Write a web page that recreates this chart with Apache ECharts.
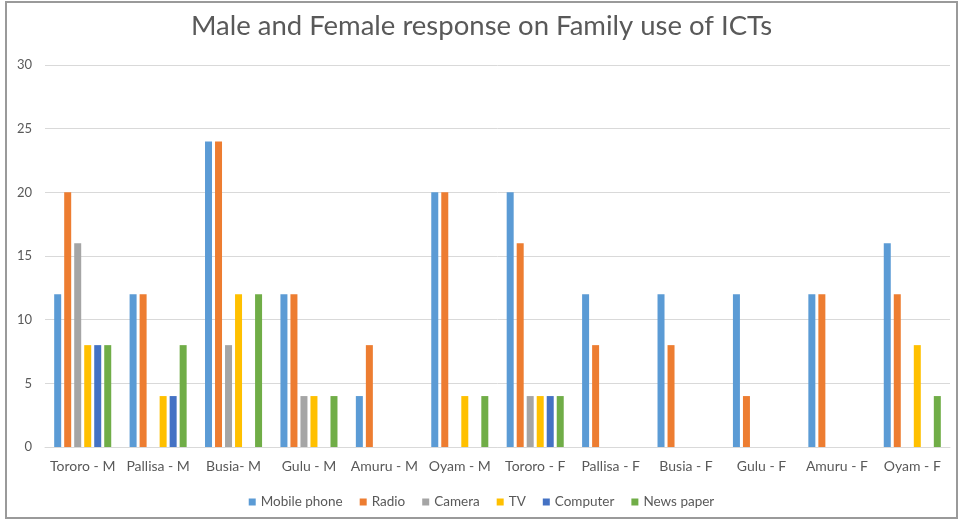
<!DOCTYPE html>
<html>
<head>
<meta charset="utf-8">
<script src="https://cdn.jsdelivr.net/npm/echarts@6/dist/echarts.min.js"></script>
<style>
  html, body { margin: 0; padding: 0; background: #fff; }
  #chart { width: 963px; height: 523px; }
</style>
</head>
<body>
<div id="chart"></div>
<script>
const categories = ["Tororo - M", "Pallisa - M", "Busia- M", "Gulu - M", "Amuru - M", "Oyam - M",
  "Tororo - F", "Pallisa - F", "Busia - F", "Gulu - F", "Amuru - F", "Oyam - F"];
const mobilePhone = [12, 12, 24, 12, 4, 20, 20, 12, 12, 12, 12, 16];
const radio       = [20, 12, 24, 12, 8, 20, 16, 8, 8, 4, 12, 12];
const camera      = [16, 0, 8, 4, 0, 0, 4, 0, 0, 0, 0, 0];
const tv          = [8, 4, 12, 4, 0, 4, 4, 0, 0, 0, 0, 8];
const computer    = [8, 4, 0, 0, 0, 0, 4, 0, 0, 0, 0, 0];
const newsPaper   = [8, 8, 12, 4, 0, 4, 4, 0, 0, 0, 0, 4];
const yTicks = [0, 5, 10, 15, 20, 25, 30];

const font = "Lato, 'Liberation Sans', sans-serif";
const chart = echarts.init(document.getElementById("chart"));

function bar(name, data, color) {
  return {
    name: name,
    type: "bar",
    data: data,
    barWidth: 7,
    barGap: "43%",
    itemStyle: { color: color }
  };
}

chart.setOption({
  animation: false,
  textStyle: { fontFamily: font },
  title: {
    text: "Male and Female response on Family use of ICTs",
    left: "center",
    top: 7,
    textStyle: { fontFamily: font, fontSize: 27.5, fontWeight: "normal", color: "#595959" }
  },
  graphic: [{
    type: "rect",
    shape: { x: 6, y: 2, width: 951, height: 516 },
    style: { fill: "none", stroke: "#9a9a9a", lineWidth: 2 },
    silent: true
  }],
  legend: {
    bottom: 9,
    left: "center",
    itemWidth: 7,
    itemHeight: 7,
    itemGap: 17,
    icon: "rect",
    textStyle: { fontFamily: font, fontSize: 13.5, color: "#595959" }
  },
  grid: { left: 45, right: 13, top: 65, bottom: 76 },
  xAxis: {
    type: "category",
    data: categories,
    axisLine: { lineStyle: { color: "#d9d9d9" } },
    axisTick: { show: false },
    axisLabel: { interval: 0, fontFamily: font, fontSize: 14, color: "#595959", margin: 12 }
  },
  yAxis: {
    type: "value",
    min: yTicks[0],
    max: yTicks[yTicks.length - 1],
    interval: 5,
    axisLine: { show: false },
    axisTick: { show: false },
    splitLine: { lineStyle: { color: "#d9d9d9" } },
    axisLabel: { fontFamily: font, fontSize: 13, color: "#595959", margin: 13 }
  },
  series: [
    bar("Mobile phone", mobilePhone, "#5B9BD5"),
    bar("Radio", radio, "#ED7D31"),
    bar("Camera", camera, "#A5A5A5"),
    bar("TV", tv, "#FFC000"),
    bar("Computer", computer, "#4472C4"),
    bar("News paper", newsPaper, "#70AD47")
  ]
});
</script>
</body>
</html>
